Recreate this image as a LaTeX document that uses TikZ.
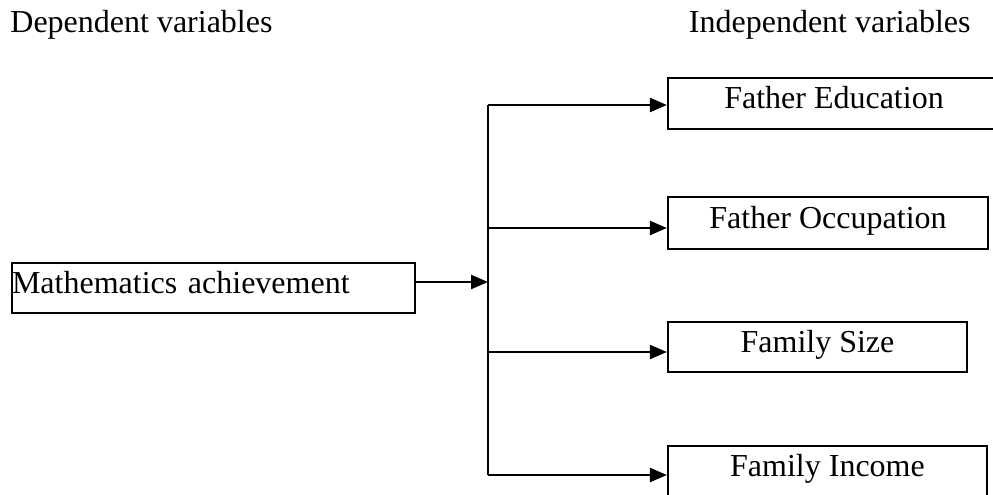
\documentclass[tikz,border=0pt]{standalone}
\usepackage{fontspec}
\setmainfont{Liberation Serif}
\usetikzlibrary{arrows.meta}
\begin{document}
\begin{tikzpicture}[x=0.5pt,y=-0.5pt,
  txt/.style={font=\fontsize{16pt}{19pt}\selectfont, inner sep=0pt},
  box/.style={draw, line width=1.1pt, inner sep=0pt, text height=11pt, text depth=6pt,
    font=\fontsize{16pt}{19pt}\selectfont},
  conn/.style={line width=1.2pt},
  arr/.style={line width=1.2pt, -{Triangle[length=8.5pt,width=7pt]}}]
\useasboundingbox (0,0) rectangle (993,494);
\clip (0,0) rectangle (993,494);
% headings
\node[txt, anchor=base west] (dep) at (10,32) {Dependent variables};
\node[txt, anchor=base east] (ind) at (971,32) {Independent variables};
% boxes
\node[box, minimum width=201.5pt, minimum height=25pt, text width=201.5pt, align=left] (m) at (213.5,288) {Mathematics achievement};
\node[box, minimum width=166pt, minimum height=25.5pt] (fe) at (834,103.5) {Father Education};
\node[box, minimum width=160pt, minimum height=26pt] (fo) at (828,223) {Father Occupation};
\node[box, minimum width=149.5pt, minimum height=25pt] (fs) at (817.5,347) {Family Size};
\node[box, minimum width=159.5pt, minimum height=25.5pt] (fi) at (827.5,471.5) {Family Income};
% trunk coordinates
\coordinate (t1) at (488,105);
\coordinate (t2) at (488,228);
\coordinate (tm) at (488,282);
\coordinate (t3) at (488,352);
\coordinate (t4) at (488,475);
% connectors
\draw[conn] (t1) -- (t4);
\draw[arr] (tm -| m.east) -- (tm);
\draw[arr] (t1) -- (t1 -| fe.west);
\draw[arr] (t2) -- (t2 -| fo.west);
\draw[arr] (t3) -- (t3 -| fs.west);
\draw[arr] (t4) -- (t4 -| fi.west);
\end{tikzpicture}
\end{document}
